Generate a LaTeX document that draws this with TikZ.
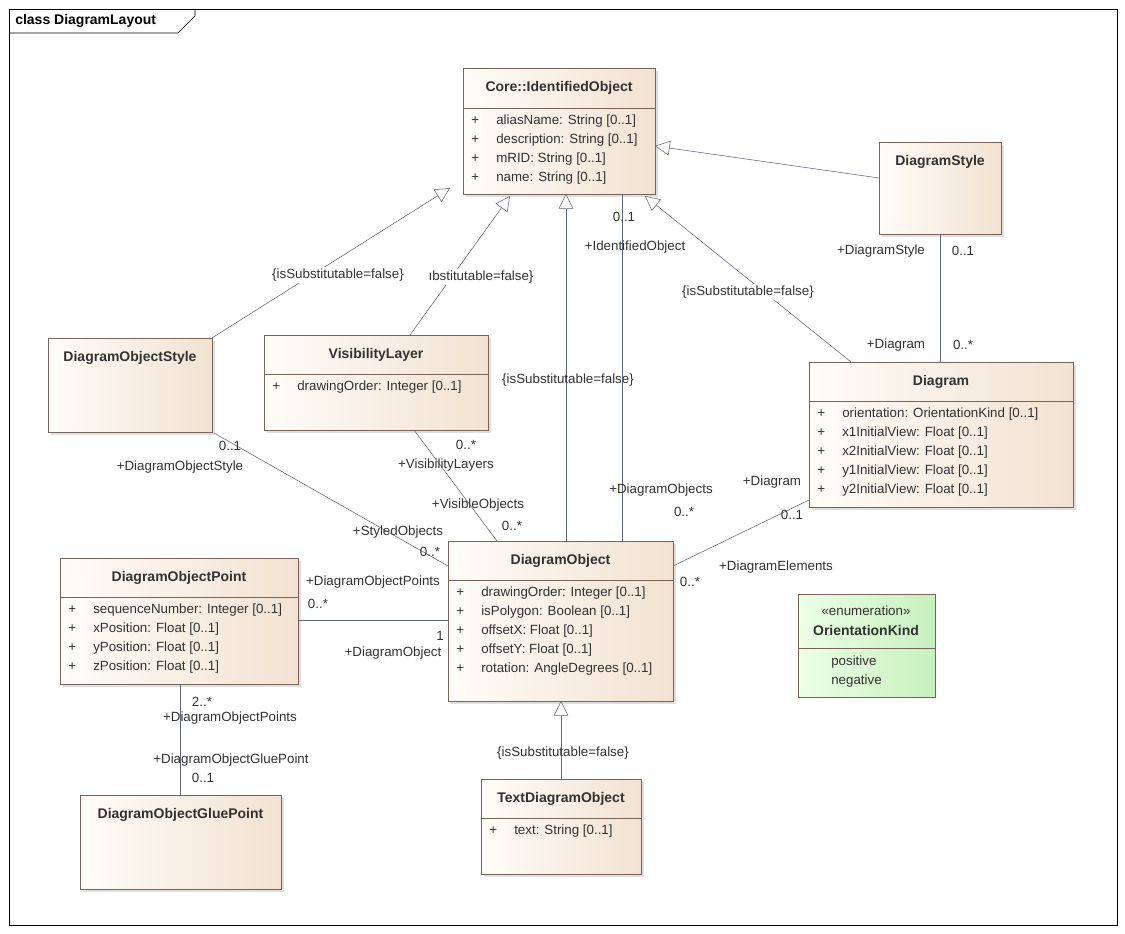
\documentclass[tikz,border=0pt]{standalone}
\usepackage{fontspec}
\setmainfont{Liberation Sans}
\usetikzlibrary{arrows.meta,shadows}

\definecolor{boxline}{RGB}{120,100,90}
\definecolor{boxA}{RGB}{255,252,248}
\definecolor{boxB}{RGB}{242,226,210}
\definecolor{enumA}{RGB}{236,255,230}
\definecolor{enumB}{RGB}{200,240,190}
\definecolor{linkgray}{RGB}{95,100,120}
\definecolor{txt}{RGB}{50,50,50}

\tikzset{
  cls/.style={draw=boxline,left color=boxA,right color=boxB,inner sep=0pt,drop shadow={opacity=0.25,shadow xshift=2pt,shadow yshift=-2pt}},
  enumbox/.style={draw=boxline,left color=enumA,right color=enumB,inner sep=0pt},
  ctitle/.style={font=\bfseries\fontsize{10.5}{12}\selectfont,text=txt},
  attr/.style={anchor=west,font=\fontsize{10}{12}\selectfont,text=txt,inner sep=0pt},
  lbl/.style={font=\fontsize{10}{12}\selectfont,text=txt,inner sep=1pt},
  link/.style={draw=linkgray,thin},
  gen/.style={draw=linkgray,thin,-{Triangle[open,length=11pt,width=11pt,fill=white]}}
}

% class box: name, x1, y1, x2, y2, title
\newcommand{\umlclass}[6]{%
  \node[cls,minimum width={(#4-#2)*0.75pt},minimum height={(#5-#3)*0.75pt}] (#1) at ({(#2+#4)/2},{(#3+#5)/2}) {};
  \node[ctitle] (#1-t) at ({(#2+#4)/2},#3+20) {#6};}
\newcommand{\umlattrs}[5]{% x1, x2, divider y, list
  \draw[boxline] (#1,#3) -- (#2,#3);
  \foreach \a [count=\i] in {#4} {
    \node[attr] at (#1+8,#3+13+19*\i-19) {+};
    \node[attr] at (#1+33,#3+13+19*\i-19) {\a};
  }}

\begin{document}
\begin{tikzpicture}[x=0.75pt,y=-0.75pt]
\useasboundingbox (0,0) rectangle (1125,933);
\fill[white] (0,0) rectangle (1125,933);

% frame
\draw[black] (9,9) rectangle (1117,925);
\draw[black] (9,33) -- (178,33) -- (195,16) -- (195,9);
\node[anchor=west,font=\bfseries\fontsize{10.5}{12}\selectfont,inner sep=0pt] (frame) at (15,21) {class DiagramLayout};

% classes
\umlclass{core}{463}{68}{655}{194}{Core::IdentifiedObject}
\umlattrs{463}{655}{108}{aliasName: String [0..1],description: String [0..1],mRID: String [0..1],name: String [0..1]}{}
\umlclass{dstyle}{879}{142}{1001}{234}{DiagramStyle}
\umlclass{dostyle}{48}{338}{212}{432}{DiagramObjectStyle}
\umlclass{vis}{264}{335}{488}{430}{VisibilityLayer}
\umlattrs{264}{488}{374}{drawingOrder: Integer [0..1]}{}
\umlclass{diag}{809}{362}{1073}{507}{Diagram}
\umlattrs{809}{1073}{401}{orientation: OrientationKind [0..1],x1InitialView: Float [0..1],x2InitialView: Float [0..1],y1InitialView: Float [0..1],y2InitialView: Float [0..1]}{}
\umlclass{dobj}{448}{541}{673}{701}{DiagramObject}
\umlattrs{448}{673}{580}{drawingOrder: Integer [0..1],isPolygon: Boolean [0..1],offsetX: Float [0..1],offsetY: Float [0..1],rotation: AngleDegrees [0..1]}{}
\umlclass{dpoint}{60}{558}{298}{684}{DiagramObjectPoint}
\umlattrs{60}{298}{597}{sequenceNumber: Integer [0..1],xPosition: Float [0..1],yPosition: Float [0..1],zPosition: Float [0..1]}{}
\umlclass{glue}{80}{795}{281}{889}{DiagramObjectGluePoint}
\umlclass{text}{481}{779}{641}{874}{TextDiagramObject}
\umlattrs{481}{641}{818}{text: String [0..1]}{}

% enumeration
\node[enumbox,minimum width={137*0.75pt},minimum height={103*0.75pt}] (orient) at (866.5,645.5) {};
\node[lbl] (orient-s) at (866,611) {«enumeration»};
\node[ctitle] (orient-t) at (866,630) {OrientationKind};
\draw[boxline] (798,648) -- (935,648);
\node[attr] (pos) at (831,662) {positive};
\node[attr] (neg) at (831,681) {negative};

% generalizations
\draw[gen] (dostyle.north east) -- (450,188);
\draw[gen] (410,335) -- (510,196);
\draw[gen] (566,541) -- (566,194);
\draw[gen] (851,362) -- (645,196);
\draw[gen] (879,178) -- (655,146);
\draw[gen] (561,779) -- (561,701);
\node[lbl,fill=white] at (338,275) {\{isSubstitutable=false\}};
\node[lbl,fill=white] at (481,277) {ıbstitutable=false\}};
\node[lbl] at (568,380) {\{isSubstitutable=false\}};
\node[lbl,fill=white] at (748,292) {\{isSubstitutable=false\}};
\node[lbl] at (563,753) {\{isSubstitutable=false\}};

% associations
\draw[link] (622,194) -- (622,541);
\node[lbl] at (624,217) {0..1};
\node[lbl] at (635,247) {+IdentifiedObject};
\node[lbl] at (661,490) {+DiagramObjects};
\node[lbl] at (684,512) {0..*};

\draw[link] (940,234) -- (940,362);
\node[lbl] at (881,251) {+DiagramStyle};
\node[lbl] at (963,251) {0..1};
\node[lbl] at (896,345) {+Diagram};
\node[lbl] at (963,345) {0..*};

\draw[link] (214,433) -- (448,566);
\node[lbl] at (230,446) {0..1};
\node[lbl] at (180,467) {+DiagramObjectStyle};
\node[lbl] at (398,532) {+StyledObjects};
\node[lbl] at (430,552) {0..*};

\draw[link] (414,430) -- (497,541);
\node[lbl] at (466,445) {0..*};
\node[lbl] at (446,465) {+VisibilityLayers};
\node[lbl] at (478,505) {+VisibleObjects};
\node[lbl] at (512,526) {0..*};

\draw[link] (809,500) -- (673,566);
\node[lbl] at (772,482) {+Diagram};
\node[lbl] at (792,515) {0..1};
\node[lbl] at (776,567) {+DiagramElements};
\node[lbl] at (690,582) {0..*};

\draw[link] (298,620) -- (448,620);
\node[lbl] at (373,582) {+DiagramObjectPoints};
\node[lbl] at (318,604) {0..*};
\node[lbl] at (440,636) {1};
\node[lbl] at (393,653) {+DiagramObject};

\draw[link] (180,684) -- (180,795);
\node[lbl] at (202,702) {2..*};
\node[lbl] at (230,718) {+DiagramObjectPoints};
\node[lbl] at (231,760) {+DiagramObjectGluePoint};
\node[lbl] at (203,778) {0..1};
\end{tikzpicture}
\end{document}
